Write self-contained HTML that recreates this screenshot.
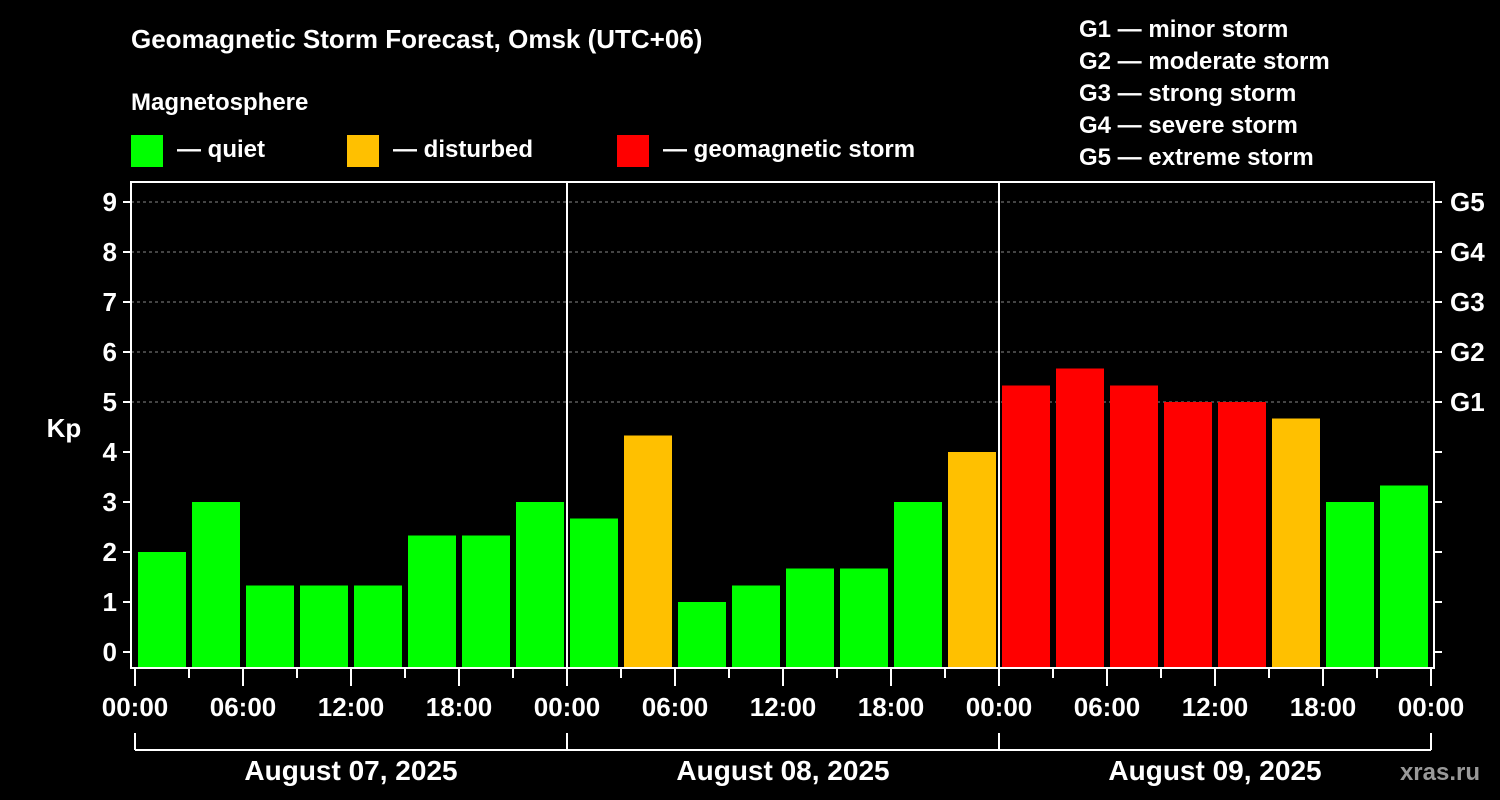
<!DOCTYPE html>
<html><head><meta charset="utf-8"><style>
html,body{margin:0;padding:0;background:#000;}
svg{display:block;font-family:"Liberation Sans",sans-serif;font-weight:bold;}
</style></head><body>
<svg id="chart" width="1500" height="800" xmlns="http://www.w3.org/2000/svg">
<rect width="1500" height="800" fill="#000"/>
<text x="131" y="48" fill="#fff" font-size="26">Geomagnetic Storm Forecast, Omsk (UTC+06)</text>
<text x="131" y="110" fill="#fff" font-size="24">Magnetosphere</text>
<g><rect x="131" y="135" width="32" height="32" fill="#00ff00"/><text x="177" y="157" fill="#fff" font-size="24">— quiet</text></g>
<g><rect x="347" y="135" width="32" height="32" fill="#ffc000"/><text x="393" y="157" fill="#fff" font-size="24">— disturbed</text></g>
<g><rect x="617" y="135" width="32" height="32" fill="#ff0000"/><text x="663" y="157" fill="#fff" font-size="24">— geomagnetic storm</text></g>
<g fill="#fff" font-size="24">
<text x="1079" y="37">G1 — minor storm</text>
<text x="1079" y="69">G2 — moderate storm</text>
<text x="1079" y="101">G3 — strong storm</text>
<text x="1079" y="133">G4 — severe storm</text>
<text x="1079" y="165">G5 — extreme storm</text>
</g>
<text x="64" y="437" fill="#fff" font-size="26" text-anchor="middle">Kp</text>
<g id="grid"></g><g id="bars"></g><g id="axes"></g>
<text x="1480" y="780" fill="#999" font-size="24" text-anchor="end">xras.ru</text>
</svg>
<script>
const days = ["August 07, 2025","August 08, 2025","August 09, 2025"];
const kpValues = [2,3,1.33,1.33,1.33,2.33,2.33,3, 2.67,4.33,1,1.33,1.67,1.67,3,4, 5.33,5.67,5.33,5,5,4.67,3,3.33];
const hourLabels = ["00:00","06:00","12:00","18:00"];
const gLabels = ["G1","G2","G3","G4","G5"];
const NS="http://www.w3.org/2000/svg";
const x0=135, dayW=432, slot=dayW/8;
const y = v => 652 - v*50;
const xs = i => x0 + i*slot;
function mk(tag, attrs, parent, txt){const e=document.createElementNS(NS,tag);for(const k in attrs)e.setAttribute(k,attrs[k]);if(txt!==undefined)e.textContent=txt;parent.appendChild(e);return e;}
const grid=document.getElementById('grid'), bars=document.getElementById('bars'), axes=document.getElementById('axes');
for(let v=5;v<=9;v++){const l=mk('line',{x1:131,x2:1434,y1:y(v),y2:y(v),stroke:'#888','stroke-dasharray':'3,3','stroke-width':1},grid);

}
kpValues.forEach((v,i)=>{const c=v>=5?'#ff0000':(v>=4?'#ffc000':'#00ff00');
const r=mk('rect',{x:xs(i)+3,y:y(v),width:slot-6,height:668-y(v),fill:c},bars);

});
// frame
const f=mk('rect',{x:131,y:182,width:1303,height:486,fill:'none',stroke:'#fff','stroke-width':2},axes);


for(let v=0;v<=9;v++){
mk('line',{x1:123,x2:131,y1:y(v),y2:y(v),stroke:'#fff','stroke-width':2},axes);
mk('line',{x1:1434,x2:1442,y1:y(v),y2:y(v),stroke:'#fff','stroke-width':2},axes);
const t=mk('text',{x:117,y:y(v)+9,fill:'#fff','font-size':26,'text-anchor':'end'},axes,String(v));

}
gLabels.forEach((g,i)=>{const t=mk('text',{x:1450,y:y(5+i)+9,fill:'#fff','font-size':26},axes,g);

});
for(let d=1;d<days.length;d++){mk('line',{x1:x0+d*dayW,x2:x0+d*dayW,y1:182,y2:668,stroke:'#fff','stroke-width':2},axes);}
for(let i=0;i<=days.length*8;i++){const x=xs(i);const major=i%2===0;
mk('line',{x1:x,x2:x,y1:668,y2:major?686:678,stroke:'#fff','stroke-width':2},axes);
if(major){const t=mk('text',{x:x,y:716,fill:'#fff','font-size':26,'text-anchor':'middle'},axes,hourLabels[(i/2)%4]);

}}
mk('line',{x1:x0,x2:x0+days.length*dayW,y1:750,y2:750,stroke:'#fff','stroke-width':2},axes);
for(let d=0;d<=days.length;d++)mk('line',{x1:x0+d*dayW,x2:x0+d*dayW,y1:733,y2:750,stroke:'#fff','stroke-width':2},axes);
days.forEach((dl,d)=>{const t=mk('text',{x:x0+d*dayW+dayW/2,y:780,fill:'#fff','font-size':28,'text-anchor':'middle'},axes,dl);

});
</script>
</body></html>
